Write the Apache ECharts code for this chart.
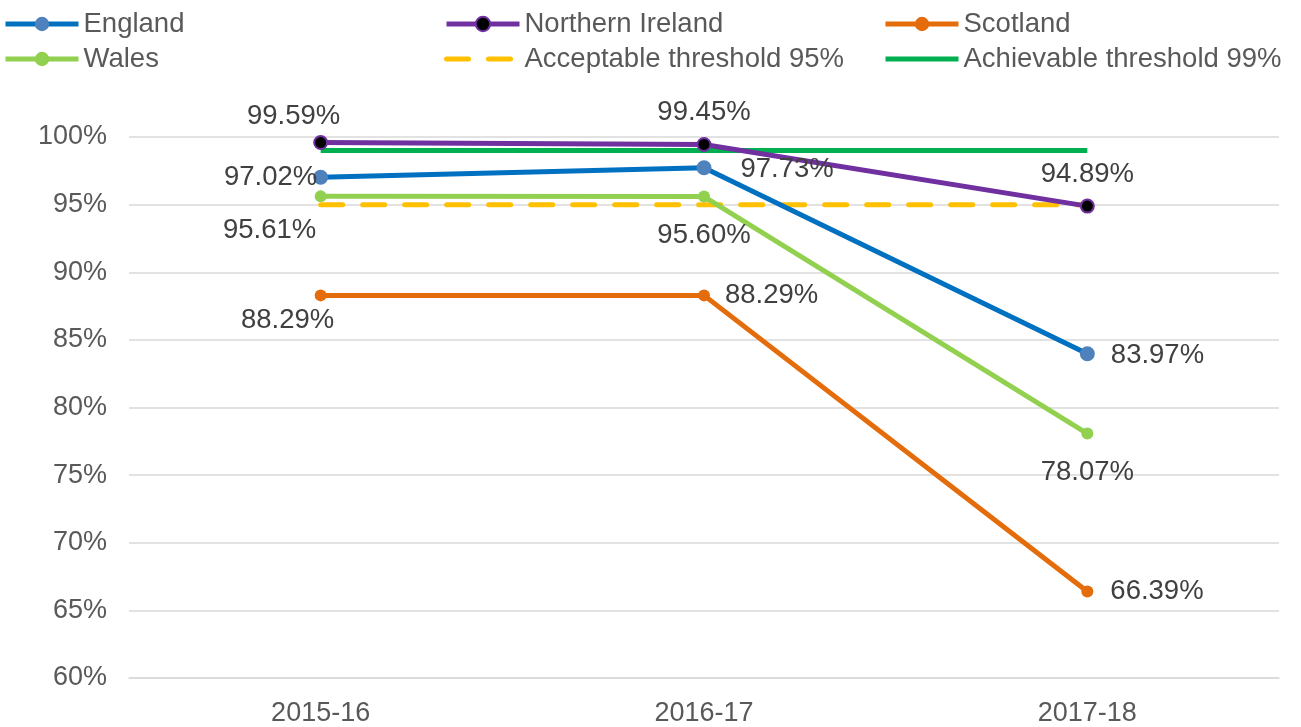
<!DOCTYPE html>
<html>
<head>
<meta charset="utf-8">
<script src="https://cdn.jsdelivr.net/npm/echarts@6/dist/echarts.min.js"></script>
<style>
	html, body { margin: 0; padding: 0; background: #fff; }
	#chart { width: 1301px; height: 727px; }
</style>
</head>
<body>
<div id="chart"></div>
<script>
var years = ['2015-16', '2016-17', '2017-18'];
var england = [97.02, 97.73, 83.97];
var northernIreland = [99.59, 99.45, 94.89];
var scotland = [88.29, 88.29, 66.39];
var wales = [95.61, 95.60, 78.07];
var acceptable = [95, 95, 95];
var achievable = [99, 99, 99];

var font = 'Liberation Sans, Arial, sans-serif';

// label placement per point: [position, offsetX, offsetY]
function withLabels(values, places) {
	return values.map(function (v, i) {
		return {
			value: v,
			label: {
				show: true,
				position: places[i][0],
				offset: [places[i][1], places[i][2]]
			}
		};
	});
}

var labelStyle = {
	show: true,
	fontSize: 27.5,
	fontFamily: font,
	color: '#404040',
	formatter: function (p) { return p.value.toFixed(2) + '%'; }
};

var chart = echarts.init(document.getElementById('chart'));

var legendBase = {
	orient: 'vertical',
	top: 5,
	padding: [5, 5, 5, 3],
	itemGap: 7,
	itemWidth: 73,
	itemHeight: 18,
	lineStyle: { width: 5 },
	textStyle: { fontSize: 27.5, fontFamily: font, color: '#595959' }
};

var option = {
	animation: false,
	legend: [
		Object.assign({}, legendBase, { left: 0, data: ['England', 'Wales'] }),
		Object.assign({}, legendBase, { left: 441, data: ['Northern Ireland', { name: 'Acceptable threshold 95%', itemStyle: { opacity: 0 } }] }),
		Object.assign({}, legendBase, { left: 880, data: ['Scotland', { name: 'Achievable threshold 99%', itemStyle: { opacity: 0 } }] })
	],
	grid: { left: 129, right: 22, top: 137, bottom: 49 },
	xAxis: {
		type: 'category',
		data: years,
		axisTick: { show: false },
		axisLine: { lineStyle: { color: '#D9D9D9', width: 1.5 } },
		axisLabel: { fontSize: 27, fontFamily: font, color: '#595959', margin: 22 }
	},
	yAxis: {
		type: 'value',
		min: 60,
		max: 100,
		interval: 5,
		axisLabel: { fontSize: 27, fontFamily: font, color: '#595959', margin: 22, formatter: '{value}%' },
		splitLine: { lineStyle: { color: '#D9D9D9', width: 1.5 } }
	},
	series: [
		{
			name: 'Acceptable threshold 95%',
			type: 'line',
			data: acceptable,
			symbol: 'none',
			lineStyle: { color: '#FFC000', width: 5, type: [22, 20], cap: 'round' },
			itemStyle: { color: '#FFC000' },
			z: 3
		},
		{
			name: 'Achievable threshold 99%',
			type: 'line',
			data: achievable,
			symbol: 'none',
			lineStyle: { color: '#00B050', width: 5 },
			itemStyle: { color: '#00B050' },
			z: 2
		},
		{
			name: 'England',
			type: 'line',
			data: withLabels(england, [['left', 9, 0], ['right', 24, 2], ['right', 11, 2]]),
			symbol: 'circle',
			symbolSize: 15,
			lineStyle: { color: '#0070C0', width: 5 },
			itemStyle: { color: '#4F81BD' },
			label: labelStyle,
			z: 4
		},
		{
			name: 'Northern Ireland',
			type: 'line',
			data: withLabels(northernIreland, [['top', -27, 0], ['top', 0, -6], ['top', 0, -5]]),
			symbol: 'circle',
			symbolSize: 13,
			lineStyle: { color: '#7030A0', width: 5 },
			itemStyle: { color: '#000000', borderColor: '#7030A0', borderWidth: 2 },
			label: labelStyle,
			z: 4
		},
		{
			name: 'Scotland',
			type: 'line',
			data: withLabels(scotland, [['bottom', -33, 0], ['right', 10, 0], ['right', 12, 0]]),
			symbol: 'circle',
			symbolSize: 12,
			lineStyle: { color: '#E46C0A', width: 5 },
			itemStyle: { color: '#E46C0A' },
			label: labelStyle,
			z: 4
		},
		{
			name: 'Wales',
			type: 'line',
			data: withLabels(wales, [['bottom', -51, 9], ['bottom', 0, 14], ['bottom', 0, 14]]),
			symbol: 'circle',
			symbolSize: 12,
			lineStyle: { color: '#92D050', width: 5 },
			itemStyle: { color: '#92D050' },
			label: labelStyle,
			z: 4
		}
	]
};

chart.setOption(option);
</script>
</body>
</html>
